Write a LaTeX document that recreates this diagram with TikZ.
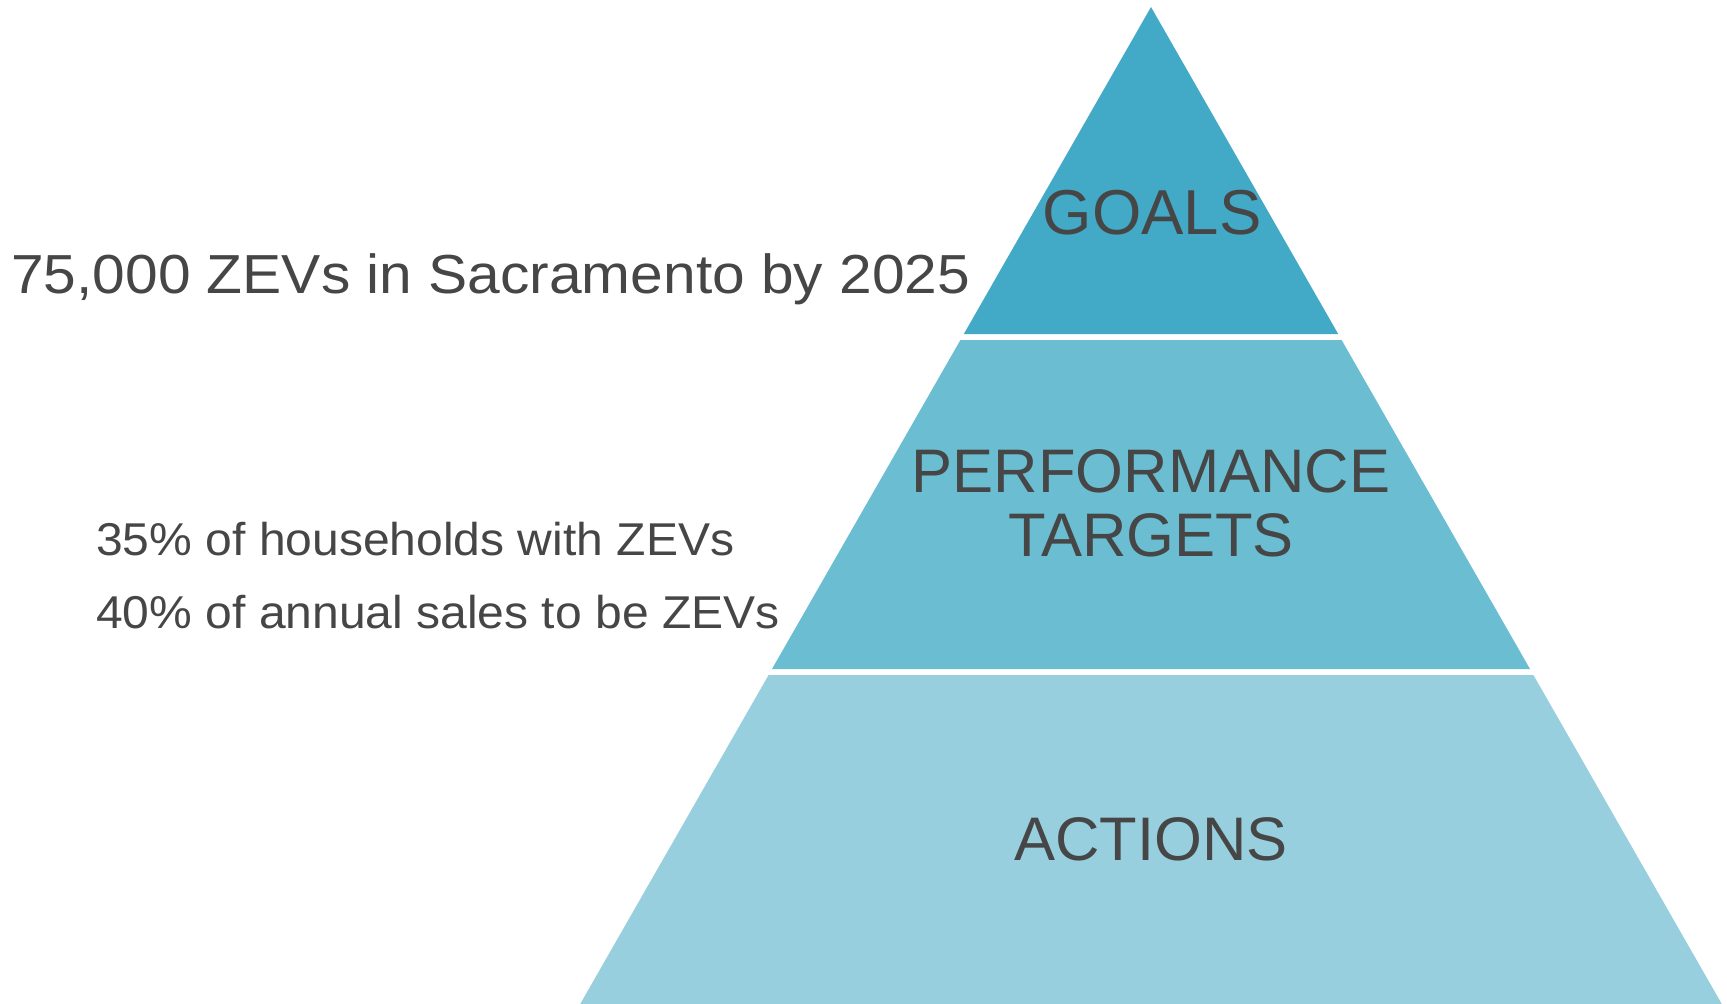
\documentclass[tikz,border=0pt]{standalone}
\usepackage{fontspec}
\setmainfont{Liberation Sans}
\definecolor{tierA}{RGB}{66,170,198}
\definecolor{tierB}{RGB}{107,190,210}
\definecolor{tierC}{RGB}{151,207,222}
\definecolor{txt}{RGB}{70,70,70}
\begin{document}
\begin{tikzpicture}[x=1pt,y=-1pt,
  label/.style={inner sep=0pt,text=txt,font=\fontsize{61.5}{64}\selectfont,anchor=base},
  side/.style={inner sep=0pt,text=txt,anchor=base west}]
\useasboundingbox (0,0) rectangle (1727,1004);
\fill[white] (0,0) rectangle (1727,1004);
\begin{scope}
\clip (0,0) rectangle (1727,1004);
\fill[tierA] (1151,7) -- (1338.2,334) -- (963.8,334) -- cycle;
\fill[tierB] (960.4,340) -- (1341.6,340) -- (1530,669) -- (772,669) -- cycle;
\fill[tierC] (768.6,675) -- (1533.4,675) -- (1721.8,1004) -- (580.2,1004) -- cycle;
\end{scope}
\node[label,font=\fontsize{63.5}{66}\selectfont] (goals) at (1152,234) {GOALS};
\node[label] (perf) at (1151,492) {PERFORMANCE};
\node[label] (targ) at (1151,556) {TARGETS};
\node[label] (act) at (1151,860) {ACTIONS};
\node[side,font=\fontsize{55}{60}\selectfont] (goaltxt) at (11,293) {\scalebox{1.067}[1]{75,000 ZEVs in Sacramento by 2025}};
\node[side,font=\fontsize{46}{50}\selectfont] (t1) at (96,555) {\scalebox{1.044}[1]{35\% of households with ZEVs}};
\node[side,font=\fontsize{46}{50}\selectfont] (t2) at (96,628) {\scalebox{1.044}[1]{40\% of annual sales to be ZEVs}};
\end{tikzpicture}
\end{document}
